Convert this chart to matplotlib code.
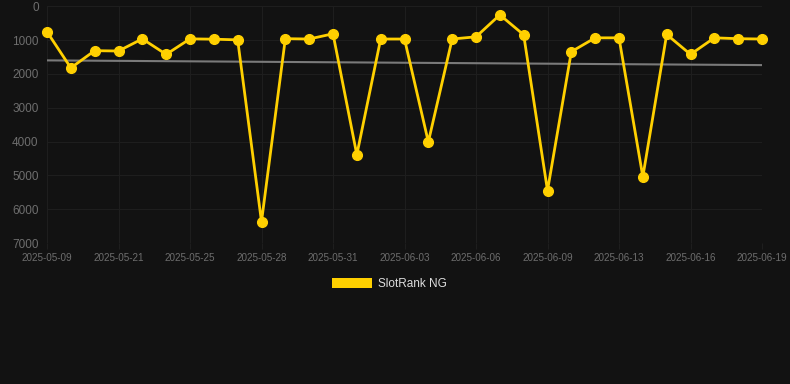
import numpy as np
import matplotlib
matplotlib.use("Agg")
import matplotlib.pyplot as plt
from matplotlib.patches import Patch

# --- data ---
dates = [
    "2025-05-09", "2025-05-19", "2025-05-20", "2025-05-21", "2025-05-23", "2025-05-24",
    "2025-05-25", "2025-05-26", "2025-05-27", "2025-05-28", "2025-05-29", "2025-05-30",
    "2025-05-31", "2025-06-01", "2025-06-02", "2025-06-03", "2025-06-04", "2025-06-05",
    "2025-06-06", "2025-06-07", "2025-06-08", "2025-06-09", "2025-06-10", "2025-06-12",
    "2025-06-13", "2025-06-14", "2025-06-15", "2025-06-16", "2025-06-17", "2025-06-18",
    "2025-06-19",
]
rank = [
    750, 1820, 1310, 1320, 960, 1420, 960, 970, 990, 6370,
    955, 965, 810, 4390, 965, 965, 4010, 965, 900, 250,
    840, 5450, 1340, 930, 930, 5040, 830, 1420, 930, 955,
    965,
]
series_name = "SlotRank NG"
y_ticks = [0, 1000, 2000, 3000, 4000, 5000, 6000, 7000]

BG = "#121212"
YELLOW = "#FFD000"
GRID = "#1e1e1e"

plt.rcParams['font.family'] = ['Liberation Sans', 'DejaVu Sans']

fig = plt.figure(figsize=(7.9, 3.84), dpi=100, facecolor=BG)
ax = fig.add_axes([47 / 790, 1 - 243 / 384, (762 - 47) / 790, (243 - 6.4) / 384])
ax.set_facecolor(BG)

x = np.arange(len(rank))

# linear trend
k, b = np.polyfit(x, rank, 1)
ax.plot(x, k * x + b, color="#7a7a7a", lw=1.5, zorder=2)

ax.plot(x, rank, color=YELLOW, lw=2.0, marker="o", markersize=7,
        solid_joinstyle="miter", zorder=3, clip_on=False)

ax.set_xlim(0, len(rank) - 1)
ax.set_ylim(7000, 0)
ax.set_yticks(y_ticks)
ax.set_yticklabels([str(v) for v in y_ticks])
tick_idx = list(range(0, len(dates), 3))
ax.set_xticks(tick_idx)
ax.set_xticklabels([dates[i] for i in tick_idx])

for s in ax.spines.values():
    s.set_visible(False)
ax.grid(True, color=GRID, lw=0.8)
ax.set_axisbelow(True)
ax.tick_params(axis="y", colors=GRID, labelcolor="#6e6e6e", labelsize=8.5, length=0, pad=6)
ax.tick_params(axis="x", colors=GRID, labelcolor="#6e6e6e", labelsize=7.1, length=4, pad=3)

fig.legend(handles=[Patch(facecolor=YELLOW, edgecolor="none", label=series_name)],
           loc="center", bbox_to_anchor=(0.493, 1 - 284 / 384), frameon=False,
           labelcolor="#dddddd", fontsize=8.5, handlelength=3.4, handleheight=0.9,
           handletextpad=0.5)

fig.savefig("out.png", dpi=100, facecolor=BG)
